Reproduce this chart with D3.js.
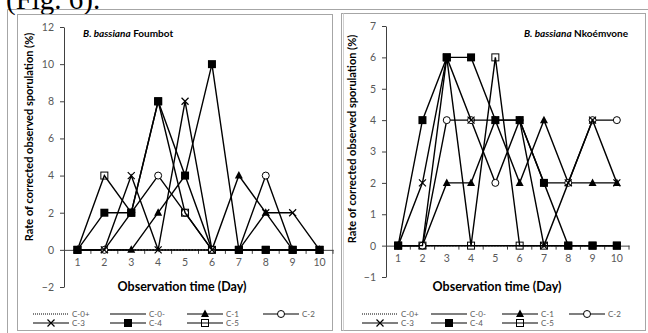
<!DOCTYPE html>
<html>
<head>
<meta charset="utf-8">
<script src="https://cdn.jsdelivr.net/npm/d3@7"></script>
<style>
body { margin: 0; background: #fff; }
text { font-family: Lato, "Open Sans", sans-serif; }
</style>
</head>
<body>
<script>
// categories
const days = [1, 2, 3, 4, 5, 6, 7, 8, 9, 10];
const seriesNames = ["C-0+", "C-0-", "C-1", "C-2", "C-3", "C-4", "C-5"];

// B. bassiana Foumbot
const fouC0p = [0, 0, 0, 0, 0, 0, 0, 0, 0, 0];
const fouC0m = [0, 0, 0, 0, 0, 0, 0, 0, 0, 0];
const fouC1 = [0, 0, 0, 2, 4, 0, 4, 2, 0, 0];
const fouC2 = [0, 0, 2, 4, 2, 0, 0, 4, 0, 0];
const fouC3 = [0, 0, 4, 0, 8, 0, 0, 2, 2, 0];
const fouC4 = [0, 2, 2, 8, 4, 10, 0, 0, 0, 0];
const fouC5 = [0, 4, 2, 8, 2, 0, 0, 0, 0, 0];

// B. bassiana Nkoémvone
const nkoC0p = [0, 0, 0, 0, 0, 0, 0, 0, 0, 0];
const nkoC0m = [0, 0, 0, 0, 0, 0, 0, 0, 0, 0];
const nkoC1 = [0, 0, 2, 2, 4, 2, 4, 2, 2, 2];
const nkoC2 = [0, 0, 4, 4, 2, 4, 2, 2, 4, 4];
const nkoC3 = [0, 2, 6, 4, 4, 4, 0, 2, 4, 2];
const nkoC4 = [0, 4, 6, 6, 4, 4, 2, 0, 0, 0];
const nkoC5 = [0, 0, 6, 0, 6, 0, 0, 0, 0, 0];

const fouTicks = [-2, 0, 2, 4, 6, 8, 10, 12];
const nkoTicks = [-1, 0, 1, 2, 3, 4, 5, 6, 7];

const markers = ["none", "none", "triangle", "circle", "cross", "square", "opensquare"];

let svg = d3.select("body").append("svg")
  .attr("width", 648).attr("height", 333);

// outer frame
svg.append("path").attr("d", "M7.5,333 V9.5 H648")
  .attr("fill", "none").attr("stroke", "#a6a6a6");
svg.append("text").text("(Fig. 6).")
  .attr("x", 6).attr("y", 9)
  .style("font-family", "'Liberation Serif', serif").style("font-size", "29px");

svg.append("rect").attr("x", 17.5).attr("y", 14.5).attr("width", 315).attr("height", 316)
  .attr("fill", "none").attr("stroke", "#a6a6a6");
svg.append("rect").attr("x", 341.5).attr("y", 13.5).attr("width", 304).attr("height", 317)
  .attr("fill", "none").attr("stroke", "#a6a6a6");
svg.append("line").attr("x1", 343.5).attr("x2", 343.5).attr("y1", 13.5).attr("y2", 330.5)
  .attr("stroke", "#d0d0d0");

function drawMarker(g, type, cx, cy) {
  if (type == "square") {
    g.append("rect").attr("x", cx - 4).attr("y", cy - 4).attr("width", 8).attr("height", 8)
      .attr("fill", "#000");
  } else if (type == "opensquare") {
    g.append("rect").attr("x", cx - 3.5).attr("y", cy - 3.5).attr("width", 7).attr("height", 7)
      .attr("fill", "none").attr("stroke", "#000").attr("stroke-width", 1);
  } else if (type == "triangle") {
    g.append("path").attr("d", `M${cx},${cy - 4.5} L${cx + 4},${cy + 3} L${cx - 4},${cy + 3}Z`)
      .attr("fill", "#000");
  } else if (type == "circle") {
    g.append("circle").attr("cx", cx).attr("cy", cy).attr("r", 3.5)
      .attr("fill", "#fff").attr("stroke", "#000").attr("stroke-width", 1);
  } else if (type == "cross") {
    g.append("path").attr("d", `M${cx - 3.5},${cy - 3.5} L${cx + 3.5},${cy + 3.5} M${cx - 3.5},${cy + 3.5} L${cx + 3.5},${cy - 3.5}`)
      .attr("stroke", "#000").attr("stroke-width", 1.2);
  }
}

function drawPanel(opt) {
  let g = svg.append("g");
  let x = d3.scaleBand().domain(days).range([opt.x0, opt.x1]);
  let y = d3.scaleLinear().domain([opt.ticks[0], opt.ticks[opt.ticks.length - 1]])
    .range([opt.yBottom, opt.yTop]);

  // y axis
  let ya = g.append("g").attr("transform", `translate(${opt.x0},0)`)
    .call(d3.axisLeft(y).tickValues(opt.ticks).tickSize(4).tickSizeOuter(0).tickPadding(6));
  // x axis at zero
  let xa = g.append("g").attr("transform", `translate(0,${y(0)})`)
    .call(d3.axisBottom(x).tickSize(0).tickSizeOuter(0).tickPadding(9));
  [ya, xa].forEach(a => {
    a.select(".domain").attr("stroke", "#404040");
    a.selectAll("line").attr("stroke", "#404040");
    a.selectAll("text").attr("fill", "#595959").style("font-size", "10.5px")
      .style("font-family", "Lato, sans-serif");
  });
  g.append("g").selectAll("line").data(days.slice(1).concat(["end"])).enter().append("line")
    .attr("x1", d => d == "end" ? opt.x1 : x(d))
    .attr("x2", d => d == "end" ? opt.x1 : x(d))
    .attr("y1", y(0)).attr("y2", y(0) + 4)
    .attr("stroke", "#404040");

  // axis titles
  g.append("text").text("Observation time (Day)")
    .attr("x", opt.xTitleX).attr("y", 291).attr("text-anchor", "middle")
    .style("font-weight", "bold").style("font-size", "12.5px");
  g.append("text").text("Rate of corrected observed sporulation (%)")
    .attr("transform", `translate(${opt.yTitleX},${opt.yTitleY}) rotate(-90)`)
    .attr("text-anchor", "middle")
    .style("font-weight", "bold").style("font-size", "11px");

  // chart title
  let t = g.append("text").attr("x", opt.titleX).attr("y", 37)
    .attr("text-anchor", opt.titleAnchor)
    .style("font-weight", "bold").style("font-size", "10px");
  t.append("tspan").text("B. bassiana").style("font-style", "italic");
  t.append("tspan").text(" " + opt.site);

  // series
  let line = d3.line().x((d, i) => x(days[i]) + x.bandwidth() / 2).y(d => y(d));
  opt.series.forEach((vals, k) => {
    g.append("path").datum(vals).attr("d", line)
      .attr("fill", "none").attr("stroke", "#000").attr("stroke-width", 1.4)
      .attr("stroke-dasharray", k == 0 ? "1.5,1.5" : null);
    vals.forEach((v, i) => drawMarker(g, markers[k], x(days[i]) + x.bandwidth() / 2, y(v)));
  });

  // legend
  let rows = [[0, 1, 2, 3], [4, 5, 6]];
  rows.forEach((row, r) => {
    row.forEach((k, c) => {
      let lx = opt.legX[c], ly = 314 + r * 9;
      g.append("line").attr("x1", lx).attr("x2", lx + 36).attr("y1", ly).attr("y2", ly)
        .attr("stroke", "#000").attr("stroke-width", 1.2)
        .attr("stroke-dasharray", k == 0 ? "1,1" : null);
      drawMarker(g, markers[k], lx + 18, ly);
      g.append("text").text(seriesNames[k]).attr("x", lx + 39).attr("y", ly + 3)
        .attr("fill", "#595959").style("font-size", "8px");
    });
  });
}

drawPanel({
  x0: 64, x1: 333, yTop: 27, yBottom: 287, ticks: fouTicks,
  series: [fouC0p, fouC0m, fouC1, fouC2, fouC3, fouC4, fouC5],
  xTitleX: 182, yTitleX: 33, yTitleY: 137,
  titleX: 83, titleAnchor: "start", site: "Foumbot",
  legX: [33, 110, 187, 263]
});
drawPanel({
  x0: 386, x1: 629, yTop: 26, yBottom: 277, ticks: nkoTicks,
  series: [nkoC0p, nkoC0m, nkoC1, nkoC2, nkoC3, nkoC4, nkoC5],
  xTitleX: 497, yTitleX: 356, yTitleY: 139,
  titleX: 628, titleAnchor: "end", site: "Nkoémvone",
  legX: [362, 431, 502, 569]
});
</script>
</body>
</html>
